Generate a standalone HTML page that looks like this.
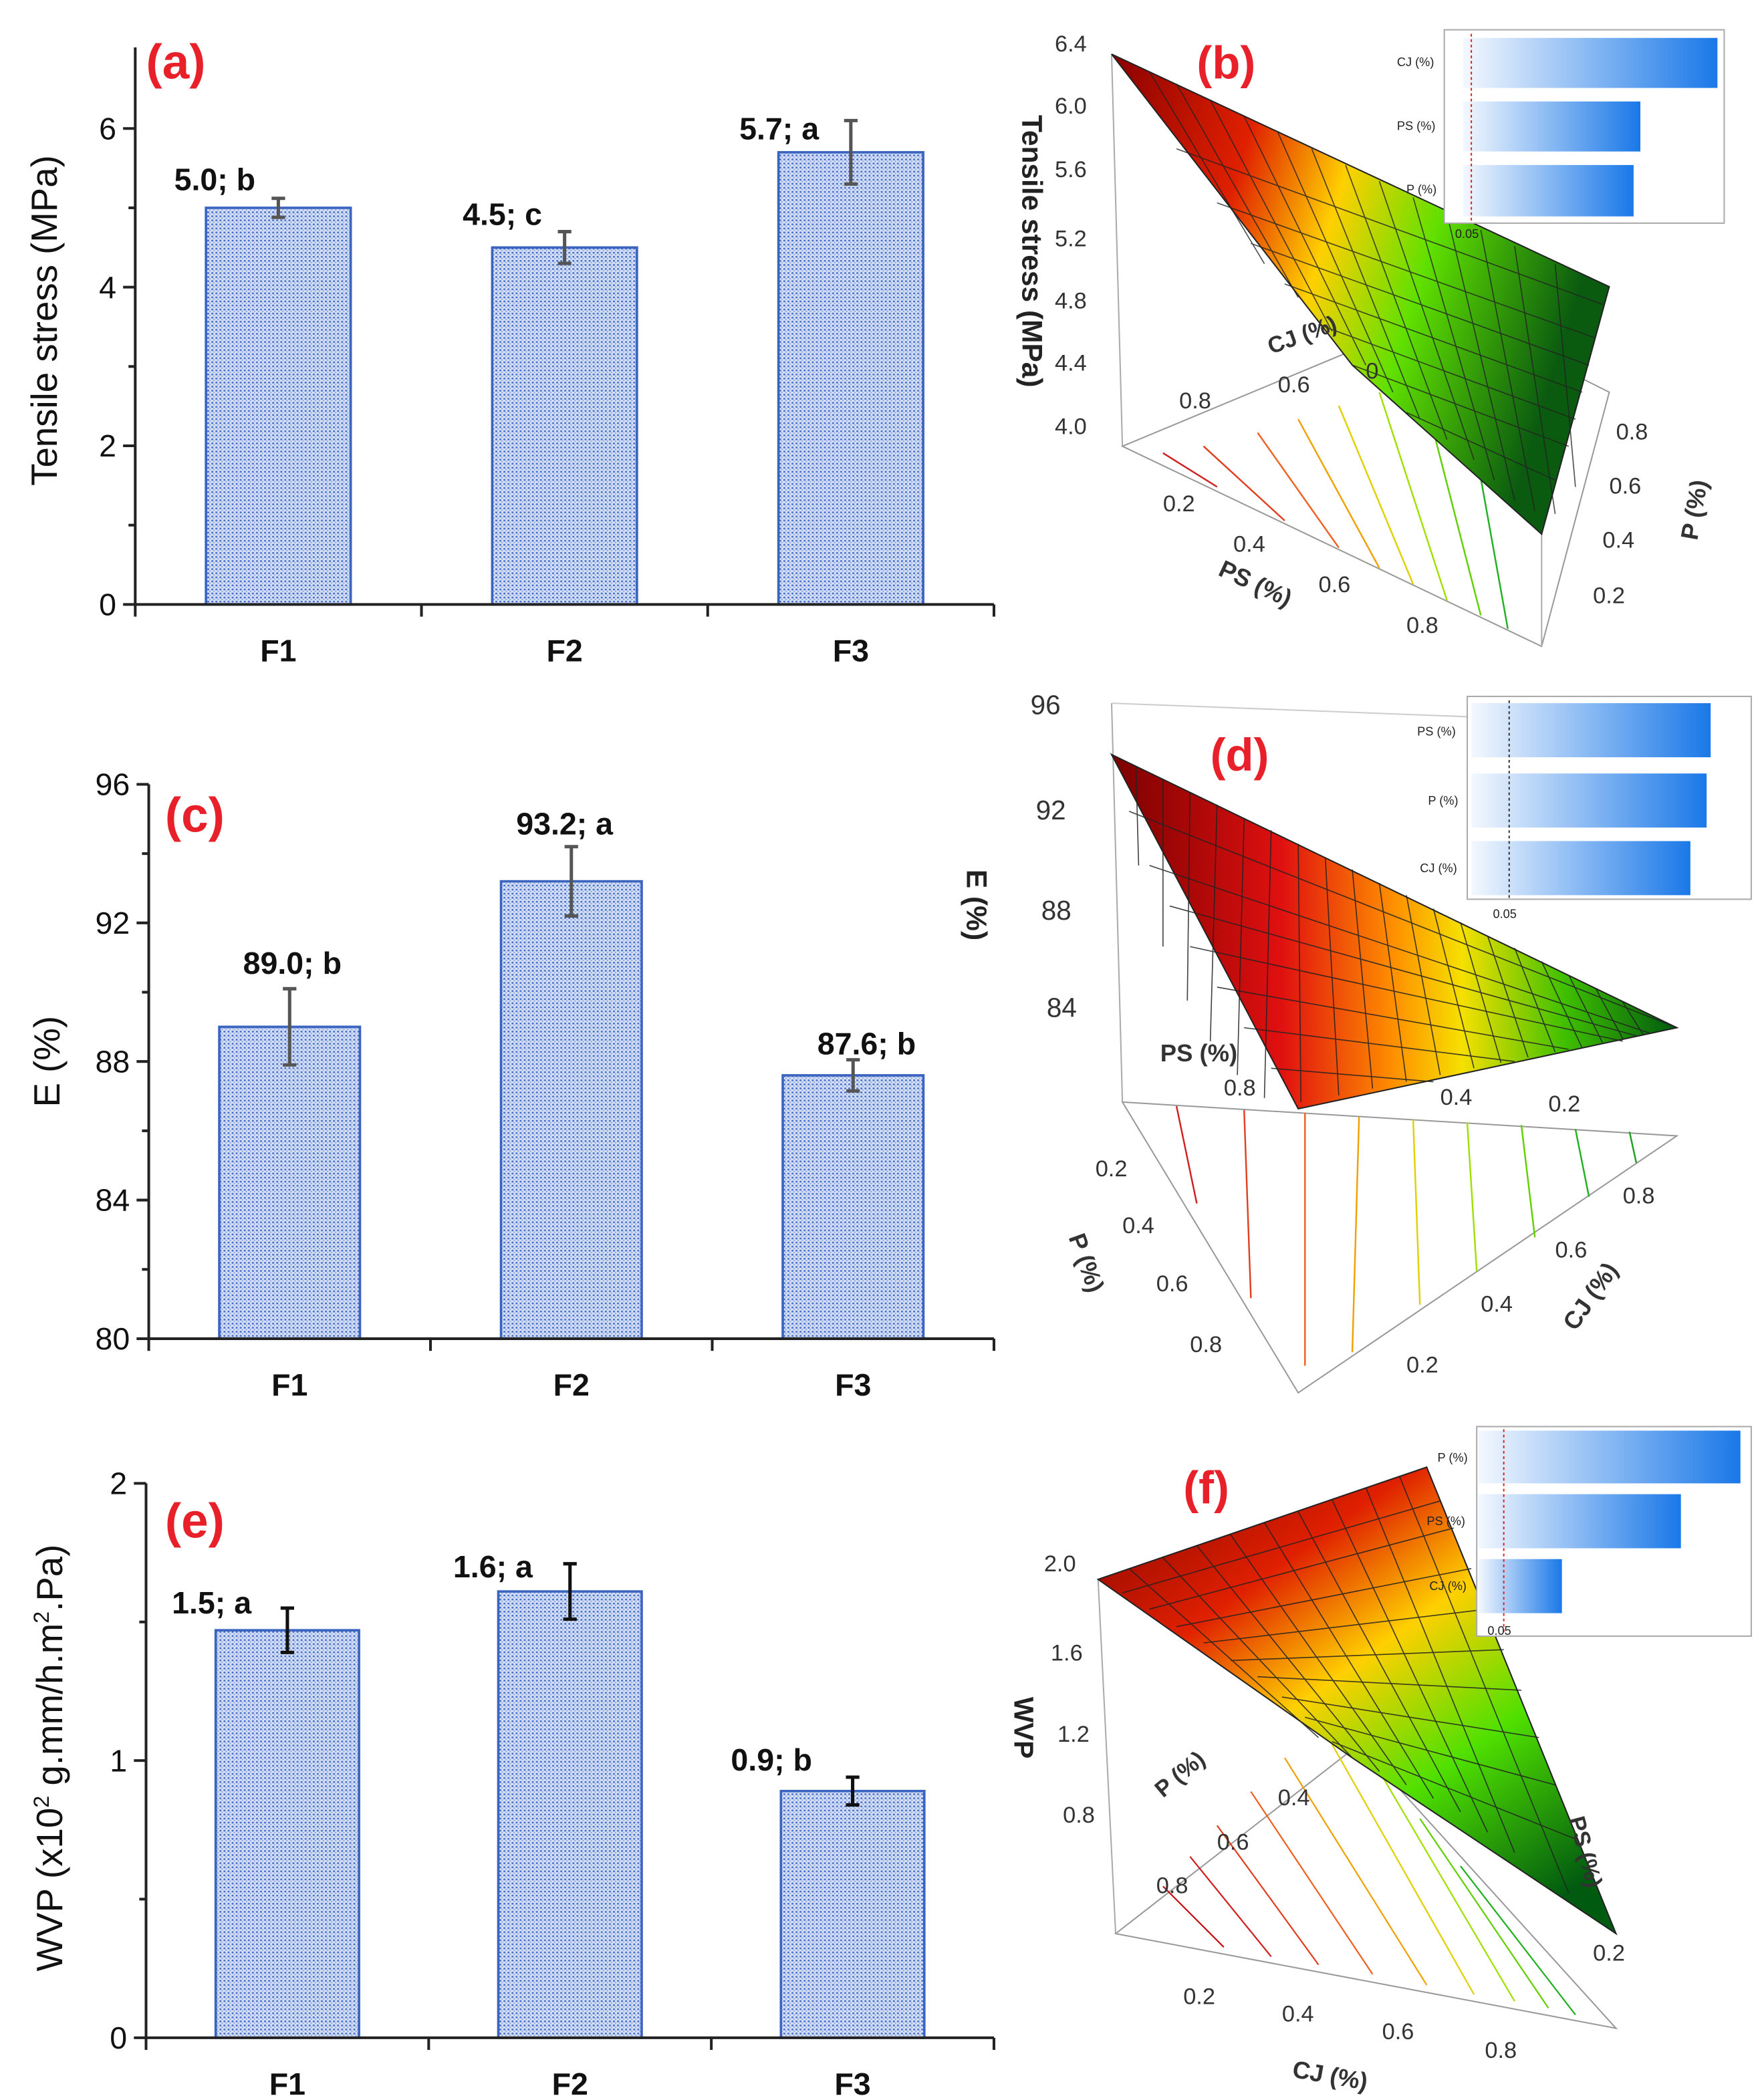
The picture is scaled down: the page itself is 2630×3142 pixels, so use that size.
<!DOCTYPE html>
<html><head><meta charset="utf-8"><style>
html,body{margin:0;padding:0;background:#fff}
svg{display:block}
text{font-family:"Liberation Sans",sans-serif}
</style></head><body>
<svg id="fig" xmlns="http://www.w3.org/2000/svg" width="2630" height="3142" viewBox="0 0 1300 1553">
<defs>
<pattern id="dots" width="3" height="3" patternUnits="userSpaceOnUse">
<rect width="3" height="3" fill="#d4def4"/>
<rect x="0.3" y="0.3" width="1.4" height="1.2" fill="#3f6ac8"/>
<rect x="1.8" y="1.8" width="0.9" height="0.9" fill="#7d9cdc"/>
</pattern>
<linearGradient id="insb" x1="0" x2="1"><stop offset="0" stop-color="#f4f8fe"/><stop offset="1" stop-color="#1a78e8"/></linearGradient>
<linearGradient id="surfB" x1="0" y1="0" x2="1" y2="0.3"><stop offset="0" stop-color="#8a0000"/><stop offset="0.3" stop-color="#e02000"/><stop offset="0.5" stop-color="#ffd000"/><stop offset="0.7" stop-color="#60e000"/><stop offset="1" stop-color="#0a5a10"/></linearGradient>
<linearGradient id="surfD" x1="0" y1="0" x2="1" y2="0"><stop offset="0" stop-color="#7a0000"/><stop offset="0.3" stop-color="#e01010"/><stop offset="0.5" stop-color="#ff9000"/><stop offset="0.62" stop-color="#f5e000"/><stop offset="0.8" stop-color="#40c000"/><stop offset="1" stop-color="#005a10"/></linearGradient>
<linearGradient id="surfF" x1="0" y1="0" x2="0.8" y2="1"><stop offset="0" stop-color="#7a0000"/><stop offset="0.3" stop-color="#e02000"/><stop offset="0.5" stop-color="#ffd000"/><stop offset="0.72" stop-color="#50e000"/><stop offset="1" stop-color="#005a10"/></linearGradient>
</defs>
<g id="bars"></g>

<!-- Panel b -->
<g>
<polygon points="830,330 1140,478 1190,290 1070,230" fill="#fff" stroke="#999" stroke-width="1"/>
<g stroke-width="1.2" fill="none">
<line x1="860" y1="335" x2="900" y2="360" stroke="#d02020"/><line x1="890" y1="330" x2="950" y2="385" stroke="#e04020"/>
<line x1="930" y1="320" x2="990" y2="405" stroke="#f06020"/><line x1="960" y1="310" x2="1020" y2="420" stroke="#f0a000"/>
<line x1="990" y1="300" x2="1045" y2="432" stroke="#e0d000"/><line x1="1020" y1="290" x2="1070" y2="444" stroke="#a0e000"/>
<line x1="1050" y1="280" x2="1095" y2="455" stroke="#60d000"/><line x1="1080" y1="270" x2="1115" y2="465" stroke="#20b020"/>
</g>
<line x1="822" y1="40" x2="830" y2="330" stroke="#aaa"/><line x1="1140" y1="478" x2="1140" y2="300" stroke="#aaa"/>
<polygon points="822,40 1190,212 1140,395 1000,270" fill="url(#surfB)" stroke="#222" stroke-width="1"/>
<g stroke="#222" stroke-width="0.8" opacity="0.8">
<line x1="850" y1="53" x2="935" y2="195"/><line x1="870" y1="62" x2="960" y2="220"/><line x1="895" y1="74" x2="985" y2="245"/><line x1="920" y1="86" x2="1010" y2="270"/><line x1="945" y1="98" x2="1030" y2="290"/><line x1="970" y1="110" x2="1050" y2="310"/>
<line x1="995" y1="122" x2="1070" y2="325"/><line x1="1020" y1="134" x2="1090" y2="340"/><line x1="1045" y1="146" x2="1105" y2="355"/><line x1="1070" y1="158" x2="1120" y2="370"/><line x1="1095" y1="170" x2="1135" y2="378"/><line x1="1120" y1="182" x2="1150" y2="380"/><line x1="1150" y1="195" x2="1165" y2="360"/>
<line x1="870" y1="110" x2="1185" y2="225"/><line x1="900" y1="150" x2="1180" y2="250"/><line x1="925" y1="180" x2="1175" y2="270"/><line x1="950" y1="210" x2="1170" y2="290"/><line x1="975" y1="240" x2="1165" y2="310"/><line x1="1000" y1="270" x2="1160" y2="330"/><line x1="1040" y1="305" x2="1150" y2="355"/>
</g>
<g font-size="17" fill="#333">
<text x="780" y="38">6.4</text><text x="780" y="84">6.0</text><text x="780" y="131">5.6</text><text x="780" y="182">5.2</text>
<text x="780" y="228">4.8</text><text x="780" y="274">4.4</text><text x="780" y="321">4.0</text>
<text x="872" y="302">0.8</text><text x="945" y="290">0.6</text><text x="1010" y="280">0</text>
<text x="860" y="378">0.2</text><text x="912" y="408">0.4</text><text x="975" y="438">0.6</text><text x="1040" y="468">0.8</text>
<text x="1195" y="325">0.8</text><text x="1190" y="365">0.6</text><text x="1185" y="405">0.4</text><text x="1178" y="446">0.2</text>
</g>
<text x="940" y="262" font-size="17" font-weight="bold" fill="#333" transform="rotate(-20 940 262)">CJ (%)</text>
<text x="900" y="425" font-size="18" font-weight="bold" fill="#333" transform="rotate(25 900 425)">PS (%)</text>
<text x="1255" y="400" font-size="18" font-weight="bold" fill="#333" transform="rotate(-80 1255 400)">P (%)</text>
<text x="756" y="85" font-size="21" font-weight="bold" fill="#222" transform="rotate(90 756 85)">Tensile stress (MPa)</text>
<text x="885" y="58" font-size="34" font-weight="bold" fill="#e8202a">(b)</text>
<g>
<rect x="1068" y="22" width="207" height="143" fill="#fff" stroke="#aaa"/>
<rect x="1082" y="28" width="188" height="37" fill="url(#insb)"/><rect x="1082" y="75" width="131" height="37" fill="url(#insb)"/><rect x="1082" y="122" width="126" height="38" fill="url(#insb)"/>
<line x1="1088" y1="25" x2="1088" y2="165" stroke="#e02020" stroke-dasharray="2,2"/>
<g font-size="9" fill="#222"><text x="1033" y="49">CJ (%)</text><text x="1033" y="96">PS (%)</text><text x="1040" y="143">P (%)</text><text x="1076" y="176">0.05</text></g>
</g>
</g>

<!-- Panel d -->
<g>
<polygon points="830,815 1240,840 960,1030" fill="#fff" stroke="#999"/>
<g stroke-width="1.2">
<line x1="870" y1="818" x2="885" y2="890" stroke="#d02020"/><line x1="920" y1="821" x2="925" y2="960" stroke="#e04020"/>
<line x1="965" y1="823" x2="965" y2="1010" stroke="#f06020"/><line x1="1005" y1="826" x2="1000" y2="1000" stroke="#f0a000"/>
<line x1="1045" y1="828" x2="1050" y2="965" stroke="#e0d000"/><line x1="1085" y1="830" x2="1092" y2="940" stroke="#a0e000"/>
<line x1="1125" y1="832" x2="1135" y2="915" stroke="#60d000"/><line x1="1165" y1="835" x2="1175" y2="885" stroke="#20b020"/><line x1="1205" y1="837" x2="1210" y2="860" stroke="#20a020"/>
</g>
<line x1="822" y1="520" x2="830" y2="815" stroke="#aaa"/><line x1="822" y1="520" x2="1085" y2="530" stroke="#ccc"/>
<polygon points="822,558 1240,760 960,820" fill="url(#surfD)" stroke="#222"/>
<g stroke="#222" stroke-width="0.8" opacity="0.85">
<line x1="840" y1="567" x2="842" y2="640"/><line x1="860" y1="576" x2="860" y2="700"/><line x1="880" y1="586" x2="878" y2="740"/><line x1="900" y1="595" x2="895" y2="770"/><line x1="920" y1="605" x2="915" y2="795"/><line x1="940" y1="614" x2="935" y2="812"/>
<line x1="960" y1="624" x2="962" y2="815"/><line x1="980" y1="634" x2="990" y2="810"/><line x1="1000" y1="643" x2="1015" y2="805"/><line x1="1020" y1="653" x2="1040" y2="800"/><line x1="1040" y1="662" x2="1065" y2="795"/><line x1="1060" y1="672" x2="1090" y2="790"/>
<line x1="1080" y1="682" x2="1110" y2="786"/><line x1="1100" y1="692" x2="1130" y2="782"/><line x1="1120" y1="701" x2="1150" y2="778"/><line x1="1140" y1="711" x2="1170" y2="775"/><line x1="1160" y1="721" x2="1185" y2="771"/><line x1="1180" y1="731" x2="1200" y2="768"/><line x1="1200" y1="741" x2="1215" y2="765"/>
<line x1="835" y1="600" x2="1240" y2="760"/><line x1="850" y1="640" x2="1220" y2="764"/><line x1="865" y1="670" x2="1210" y2="766"/><line x1="880" y1="700" x2="1200" y2="770"/><line x1="900" y1="730" x2="1160" y2="776"/><line x1="920" y1="760" x2="1120" y2="785"/><line x1="940" y1="790" x2="1060" y2="800"/>
</g>
<g font-size="20" fill="#333"><text x="762" y="528">96</text><text x="766" y="606">92</text><text x="770" y="680">88</text><text x="774" y="752">84</text></g>
<g font-size="17" fill="#333">
<text x="905" y="810">0.8</text><text x="1065" y="817">0.4</text><text x="1145" y="822">0.2</text>
<text x="810" y="870">0.2</text><text x="830" y="912">0.4</text><text x="855" y="955">0.6</text><text x="880" y="1000">0.8</text>
<text x="1040" y="1015">0.2</text><text x="1095" y="970">0.4</text><text x="1150" y="930">0.6</text><text x="1200" y="890">0.8</text>
</g>
<text x="858" y="785" font-size="18" font-weight="bold" fill="#333">PS (%)</text>
<text x="790" y="915" font-size="18" font-weight="bold" fill="#333" transform="rotate(70 790 915)">P (%)</text>
<text x="1165" y="985" font-size="18" font-weight="bold" fill="#333" transform="rotate(-55 1165 985)">CJ (%)</text>
<text x="715" y="643" font-size="21" font-weight="bold" fill="#222" transform="rotate(90 715 643)">E (%)</text>
<text x="895" y="570" font-size="34" font-weight="bold" fill="#e8202a">(d)</text>
<g>
<rect x="1085" y="515" width="210" height="150" fill="#fff" stroke="#aaa"/>
<rect x="1088" y="520" width="177" height="40" fill="url(#insb)"/><rect x="1088" y="572" width="174" height="40" fill="url(#insb)"/><rect x="1088" y="622" width="162" height="40" fill="url(#insb)"/>
<line x1="1116" y1="518" x2="1116" y2="665" stroke="#333" stroke-dasharray="2,2"/>
<g font-size="9" fill="#222"><text x="1048" y="544">PS (%)</text><text x="1056" y="595">P (%)</text><text x="1050" y="645">CJ (%)</text><text x="1104" y="679">0.05</text></g>
</g>
</g>

<!-- Panel f -->
<g>
<polygon points="825,1430 1195,1500 1005,1290" fill="#fff" stroke="#999"/>
<g stroke-width="1.1" fill="none">
<line x1="860" y1="1395" x2="905" y2="1440" stroke="#c01010"/><line x1="880" y1="1373" x2="940" y2="1447" stroke="#d02020"/>
<line x1="900" y1="1350" x2="975" y2="1453" stroke="#e04020"/><line x1="925" y1="1325" x2="1015" y2="1460" stroke="#f06020"/>
<line x1="950" y1="1300" x2="1055" y2="1468" stroke="#f0a000"/><line x1="985" y1="1290" x2="1090" y2="1475" stroke="#e0d000"/>
<line x1="1020" y1="1310" x2="1120" y2="1480" stroke="#a0e000"/><line x1="1050" y1="1345" x2="1145" y2="1485" stroke="#60d000"/>
<line x1="1080" y1="1380" x2="1165" y2="1490" stroke="#20b020"/>
</g>
<line x1="812" y1="1168" x2="825" y2="1430" stroke="#aaa"/><line x1="812" y1="1168" x2="1055" y2="1085" stroke="#ccc"/>
<polygon points="812,1168 1055,1085 1195,1430 1000,1300" fill="url(#surfF)" stroke="#222"/>
<g stroke="#222" stroke-width="0.8" opacity="0.85">
<line x1="835" y1="1160" x2="975" y2="1285"/><line x1="860" y1="1152" x2="1000" y2="1300"/><line x1="885" y1="1143" x2="1020" y2="1310"/><line x1="910" y1="1135" x2="1040" y2="1320"/><line x1="935" y1="1126" x2="1060" y2="1330"/><line x1="960" y1="1118" x2="1080" y2="1340"/>
<line x1="985" y1="1109" x2="1100" y2="1355"/><line x1="1010" y1="1100" x2="1120" y2="1370"/><line x1="1035" y1="1092" x2="1160" y2="1400"/>
<line x1="830" y1="1178" x2="1065" y2="1110"/><line x1="850" y1="1190" x2="1075" y2="1130"/><line x1="870" y1="1203" x2="1088" y2="1160"/><line x1="890" y1="1215" x2="1100" y2="1190"/><line x1="910" y1="1228" x2="1112" y2="1220"/><line x1="930" y1="1240" x2="1125" y2="1250"/><line x1="948" y1="1255" x2="1138" y2="1285"/><line x1="965" y1="1270" x2="1150" y2="1320"/><line x1="985" y1="1288" x2="1165" y2="1360"/>
</g>
<g font-size="17" fill="#333">
<text x="772" y="1162">2.0</text><text x="777" y="1228">1.6</text><text x="782" y="1288">1.2</text><text x="786" y="1348">0.8</text>
<text x="875" y="1482">0.2</text><text x="948" y="1495">0.4</text><text x="1022" y="1508">0.6</text><text x="1098" y="1522">0.8</text>
<text x="1178" y="1450">0.2</text><text x="855" y="1400">0.8</text><text x="900" y="1368">0.6</text><text x="945" y="1335">0.4</text>
</g>
<text x="955" y="1536" font-size="18" font-weight="bold" fill="#333" transform="rotate(10 955 1536)">CJ (%)</text>
<text x="860" y="1330" font-size="17" font-weight="bold" fill="#333" transform="rotate(-40 860 1330)">P (%)</text>
<text x="1160" y="1345" font-size="17" font-weight="bold" fill="#333" transform="rotate(75 1160 1345)">PS (%)</text>
<text x="750" y="1255" font-size="20" font-weight="bold" fill="#222" transform="rotate(90 750 1255)">WVP</text>
<text x="875" y="1112" font-size="34" font-weight="bold" fill="#e8202a">(f)</text>
<g>
<rect x="1092" y="1055" width="203" height="155" fill="#fff" stroke="#aaa"/>
<rect x="1093" y="1058" width="194" height="39" fill="url(#insb)"/><rect x="1093" y="1105" width="150" height="40" fill="url(#insb)"/><rect x="1093" y="1153" width="62" height="40" fill="url(#insb)"/>
<line x1="1112" y1="1057" x2="1112" y2="1208" stroke="#e02020" stroke-dasharray="2,2"/>
<g font-size="9" fill="#222"><text x="1063" y="1081">P (%)</text><text x="1055" y="1128">PS (%)</text><text x="1057" y="1176">CJ (%)</text><text x="1100" y="1209">0.05</text></g>
</g>
</g>
</svg>
<script>
// Panel (a)
const catsA = ["F1","F2","F3"];
const valsA = [5.0, 4.5, 5.7];
const errA = [0.12, 0.2, 0.4];
const lblA = ["5.0; b","4.5; c","5.7; a"];
const ticksA = [0,2,4,6];
// Panel (c)
const catsC = ["F1","F2","F3"];
const valsC = [89.0, 93.2, 87.6];
const errC = [1.1, 1.0, 0.45];
const lblC = ["89.0; b","93.2; a","87.6; b"];
const ticksC = [80,84,88,92,96];
// Panel (e)
const catsE = ["F1","F2","F3"];
const valsE = [1.47, 1.61, 0.89];
const errE = [0.08, 0.1, 0.05];
const lblE = ["1.5; a","1.6; a","0.9; b"];
const ticksE = [0,1,2];

const NS="http://www.w3.org/2000/svg";
const root=document.getElementById('bars');
function mk(tag,attrs,parent,txt){const e=document.createElementNS(NS,tag);for(const k in attrs)e.setAttribute(k,attrs[k]);if(txt!==undefined)e.textContent=txt;parent.appendChild(e);return e;}

function chart(cfg){
  const g=mk('g',{},root);
  
  
  const y=v=>cfg.y0-(v-cfg.vmin)/(cfg.vmax-cfg.vmin)*(cfg.y0-cfg.y1);
  const step=(cfg.x1-cfg.x0)/cfg.cats.length;
  const xc=i=>cfg.x0+step*(i+0.5);
  const bw=cfg.bw;
  cfg.cats.forEach((c,i)=>{
    const r=mk('rect',{x:xc(i)-bw/2,y:y(cfg.vals[i]),width:bw,height:cfg.y0-y(cfg.vals[i]),fill:'url(#dots)',stroke:'#3a64c0','stroke-width':1.8},g);
    
    
    const eb=mk('g',{stroke:cfg.ec,'stroke-width':2.5},g);
    
    
    const hi=y(cfg.vals[i]+cfg.err[i]),lo=y(cfg.vals[i]-cfg.err[i]);
    mk('line',{x1:xc(i),x2:xc(i),y1:hi,y2:lo},eb);
    mk('line',{x1:xc(i)-5,x2:xc(i)+5,y1:hi,y2:hi},eb);
    mk('line',{x1:xc(i)-5,x2:xc(i)+5,y1:lo,y2:lo},eb);
    const t=mk('text',{x:xc(i)+cfg.lo[i],y:hi+cfg.dy[i],'font-size':23,'font-weight':'bold','text-anchor':'middle',fill:'#111'},g,cfg.lbl[i]);
    
    
    const ct=mk('text',{x:xc(i),y:cfg.y0+42,'font-size':23,'font-weight':'bold','text-anchor':'middle',fill:'#111'},g,c);
    
    
  });
  const ax=mk('g',{stroke:'#222','stroke-width':2},g);
  
  
  mk('line',{x1:cfg.x0,x2:cfg.x0,y1:cfg.ytop,y2:cfg.y0},ax);
  mk('line',{x1:cfg.x0,x2:cfg.x1,y1:cfg.y0,y2:cfg.y0},ax);
  for(let i=0;i<=cfg.cats.length;i++)mk('line',{x1:cfg.x0+step*i,x2:cfg.x0+step*i,y1:cfg.y0,y2:cfg.y0+9},ax);
  const nt=cfg.ticks.length;
  cfg.ticks.forEach((v,k)=>{
    mk('line',{x1:cfg.x0-9,x2:cfg.x0,y1:y(v),y2:y(v)},ax);
    if(k<nt-1){const ym=(y(v)+y(cfg.ticks[k+1]))/2;mk('line',{x1:cfg.x0-5,x2:cfg.x0,y1:ym,y2:ym},ax);}
    const t=mk('text',{x:cfg.x0-14,y:y(v)+8,'font-size':23,'text-anchor':'end',fill:'#111'},g,String(v));
    
    
  });
  const yt=mk('text',{x:cfg.tx,y:cfg.ty,'font-size':27,'text-anchor':'middle',fill:'#111',transform:`rotate(-90 ${cfg.tx} ${cfg.ty})`},g);
  
  
  yt.innerHTML=cfg.title;
  const pl=mk('text',{x:cfg.px,y:cfg.py,'font-size':36,'font-weight':'bold',fill:'#e8202a'},g,cfg.panel);
  
  
}
chart({name:'bar-chart-a',cats:catsA,vals:valsA,err:errA,lbl:lblA,ticks:ticksA,vmin:0,vmax:6,x0:100,x1:735,y0:447,y1:95,ytop:35,bw:107,ec:'#555',lo:[-47,-46,-53],dy:[-6,-5,14],tx:42,ty:237,title:'Tensile stress (MPa)',panel:'(a)',px:108,py:58});
chart({name:'bar-chart-c',cats:catsC,vals:valsC,err:errC,lbl:lblC,ticks:ticksC,vmin:80,vmax:96,x0:110,x1:735,y0:990,y1:580,ytop:580,bw:104,ec:'#555',lo:[2,-5,10],dy:[-11,-9,-4],tx:44,ty:785,title:'E (%)',panel:'(c)',px:122,py:615});
chart({name:'bar-chart-e',cats:catsE,vals:valsE,err:errE,lbl:lblE,ticks:ticksE,vmin:0,vmax:2,x0:108,x1:735,y0:1507,y1:1097,ytop:1097,bw:106,ec:'#111',lo:[-56,-57,-60],dy:[4,10,-5],tx:46,ty:1300,title:'WVP (x10<tspan font-size="16" dy="-10">2</tspan><tspan dy="10"> g.mm/h.m</tspan><tspan font-size="16" dy="-10">2</tspan><tspan dy="10">.Pa)</tspan>',panel:'(e)',px:122,py:1137});
</script>
</body></html>
